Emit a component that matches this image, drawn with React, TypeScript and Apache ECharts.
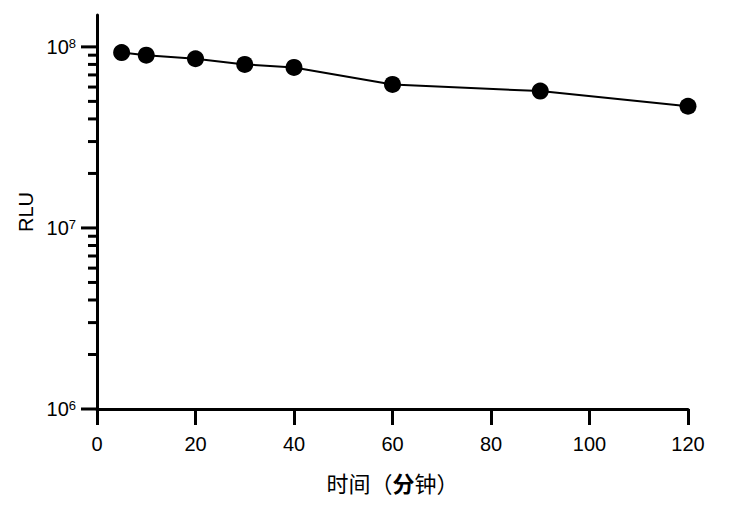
import React, { useEffect, useRef } from "react";
import * as echarts from "echarts";

const timeMinutes = [5, 10, 20, 30, 40, 60, 90, 120];
const rluValues = [9.3e7, 9.0e7, 8.6e7, 8.0e7, 7.7e7, 6.2e7, 5.7e7, 4.7e7];
const yMajorTicks = [1e6, 1e7, 1e8];
const yMinorTicks = [
  2e6, 3e6, 4e6, 5e6, 6e6, 7e6, 8e6, 9e6,
  2e7, 3e7, 4e7, 5e7, 6e7, 7e7, 8e7, 9e7,
];

const NUM_FONT = "'Liberation Sans', Arial, sans-serif";
const CJK_FONT = "'Noto Sans CJK SC', sans-serif";

function tickSeries(values: number[], len: number) {
  return {
    type: "custom",
    silent: true,
    clip: false,
    z: 10,
    data: values.map((v) => [0, v]),
    renderItem: (_params: any, api: any) => {
      const p = api.coord([api.value(0), api.value(1)]);
      return {
        type: "line",
        shape: { x1: p[0] - len, y1: p[1], x2: p[0], y2: p[1] },
        style: { stroke: "#000", lineWidth: 3 },
      };
    },
  };
}

export default function App() {
  const ref = useRef<HTMLDivElement>(null);
  useEffect(() => {
    document.body.style.margin = "0";
    const chart = echarts.init(ref.current!, null, { renderer: "svg" });
    chart.setOption({
      animation: false,
      backgroundColor: "#fff",
      grid: { left: 97, right: 49, top: 15, bottom: 99 },
      xAxis: {
        type: "value",
        min: 0,
        max: 120,
        interval: 20,
        name: "{a|时间（}{b|分}{a|钟）}",
        nameLocation: "middle",
        nameGap: 62,
        nameTextStyle: {
          rich: {
            a: { fontFamily: CJK_FONT, fontSize: 22, color: "#000", fontWeight: "normal" },
            b: { fontFamily: CJK_FONT, fontSize: 22, color: "#000", fontWeight: "bold" },
          },
        },
        axisLine: { show: true, onZero: false, lineStyle: { color: "#000", width: 3 } },
        axisTick: { show: true, inside: false, length: 16, lineStyle: { color: "#000", width: 3 } },
        axisLabel: { margin: 25, color: "#000", fontSize: 20, fontFamily: NUM_FONT },
        splitLine: { show: false },
      },
      yAxis: {
        type: "log",
        logBase: 10,
        min: 1e6,
        max: 1.5e8,
        position: "left",
        name: "RLU",
        nameLocation: "middle",
        nameGap: 60,
        nameTextStyle: { color: "#000", fontSize: 20, fontFamily: NUM_FONT },
        axisLine: { show: true, onZero: false, lineStyle: { color: "#000", width: 3 } },
        axisTick: { show: false },
        minorTick: { show: false },
        splitLine: { show: false },
        axisLabel: {
          margin: 21,
          formatter: (v: number) => {
            const e = Math.log10(v);
            if (Math.abs(e - Math.round(e)) > 1e-6) return "";
            return `{b|10}{s|${Math.round(e)}}`;
          },
          rich: {
            b: { fontSize: 20, fontFamily: NUM_FONT, color: "#000" },
            s: { fontSize: 13, fontFamily: NUM_FONT, color: "#000", verticalAlign: "top" },
          },
        },
      },
      series: [
        {
          type: "line",
          data: timeMinutes.map((t, i) => [t, rluValues[i]]),
          symbol: "circle",
          symbolSize: 17,
          itemStyle: { color: "#000" },
          lineStyle: { color: "#000", width: 2 },
          z: 5,
        },
        tickSeries(yMajorTicks, 16),
        tickSeries(yMinorTicks, 9),
      ],
    });
    return () => chart.dispose();
  }, []);
  return <div ref={ref} style={{ width: 737, height: 508 }} />;
}
